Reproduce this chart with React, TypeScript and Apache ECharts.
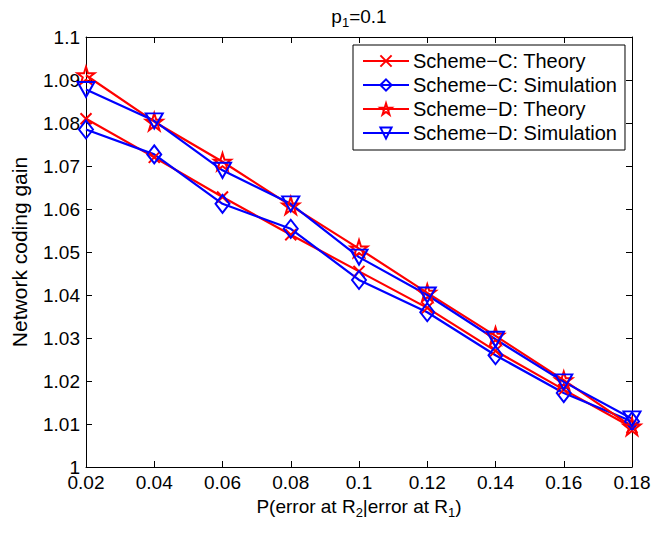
import React, { useEffect, useRef } from "react";
import * as echarts from "echarts";

const xCategories = ["0.02", "0.04", "0.06", "0.08", "0.1", "0.12", "0.14", "0.16", "0.18"];
const schemeCTheory = [1.081, 1.072, 1.0628, 1.054, 1.0455, 1.037, 1.027, 1.018, 1.0092];
const schemeCSim = [1.0785, 1.0727, 1.0612, 1.0554, 1.0435, 1.036, 1.026, 1.0172, 1.0106];
const schemeDTheory = [1.0911, 1.0803, 1.071, 1.0608, 1.0508, 1.0405, 1.0305, 1.0202, 1.0094];
const schemeDSim = [1.0878, 1.0805, 1.069, 1.0612, 1.0488, 1.04, 1.0297, 1.0198, 1.0112];
const seriesNames = [
  "Scheme\u2212C: Theory",
  "Scheme\u2212C: Simulation",
  "Scheme\u2212D: Theory",
  "Scheme\u2212D: Simulation",
];

const RED = "#ff0000";
const BLUE = "#0000ff";
const FONT = "'Liberation Sans', Arial, Helvetica, sans-serif";

const STAR =
  "path://M50,0L61.23,34.55L97.55,34.55L68.16,55.9L79.39,90.45L50,69.1L20.61,90.45L31.84,55.9L2.45,34.55L38.77,34.55Z";
const XMARK = "path://M0,0L10,10M10,0L0,10";
const TRI_DOWN = "path://M0,0L20,0L10,17Z";

function mkSeries(name: string, data: number[], color: string, symbol: string, size: any) {
  return {
    name,
    type: "line",
    data,
    color,
    symbol,
    symbolSize: size,
    showAllSymbol: true,
    clip: false,
    lineStyle: { color, width: 2.2 },
    itemStyle: { color: "rgba(255,255,255,0)", borderColor: color, borderWidth: 2 },
    emphasis: { disabled: true },
  };
}

export default function App() {
  const ref = useRef<HTMLDivElement>(null);
  useEffect(() => {
    if (!ref.current) return;
    const chart = echarts.init(ref.current, undefined, { renderer: "svg" });
    const axisLine = { show: true, lineStyle: { color: "#000", width: 1 } };
    const tick = { show: true, inside: true, length: 6, lineStyle: { color: "#000", width: 1 } };
    chart.setOption({
      animation: false,
      backgroundColor: "#fff",
      textStyle: { fontFamily: FONT },
      grid: { left: 86, top: 37, width: 546, height: 430, containLabel: false },
      graphic: [
        {
          type: "text",
          x: 359,
          y: 16,
          style: {
            text: "p{sub|1}=0.1",
            fontSize: 19,
            fontFamily: FONT,
            fill: "#000",
            align: "center",
            verticalAlign: "middle",
            rich: { sub: { fontSize: 13, fontFamily: FONT, verticalAlign: "bottom", padding: [12, 0, 0, 0] } },
          },
        },
      ],
      legend: {
        orient: "vertical",
        left: 353,
        top: 45,
        width: 272,
        itemWidth: 46,
        itemHeight: 14,
        itemGap: 4,
        padding: [6, 8, 7, 9],
        borderColor: "#000",
        borderWidth: 1,
        backgroundColor: "#fff",
        textStyle: { fontSize: 20, fontFamily: FONT, color: "#000", lineHeight: 20, padding: [0, 0, 0, -1] },
        data: seriesNames,
      },
      xAxis: [
        {
          type: "category",
          data: xCategories,
          boundaryGap: false,
          position: "bottom",
          axisLine,
          axisTick: tick,
          axisLabel: { color: "#000", fontSize: 19, fontFamily: FONT, margin: 6 },
          splitLine: { show: false },
          name: "P(error at R{sub|2}|error at R{sub|1})",
          nameLocation: "middle",
          nameGap: 25,
          nameTextStyle: {
            color: "#000",
            fontSize: 19,
            fontFamily: FONT,
            rich: { sub: { fontSize: 13, fontFamily: FONT, padding: [12, 0, 0, 0] } },
          },
        },
        {
          type: "category",
          data: xCategories,
          boundaryGap: false,
          position: "top",
          axisLine,
          axisTick: tick,
          axisLabel: { show: false },
          splitLine: { show: false },
        },
      ],
      yAxis: [
        {
          type: "value",
          min: 1,
          max: 1.1,
          interval: 0.01,
          position: "left",
          axisLine,
          axisTick: tick,
          axisLabel: {
            color: "#000",
            fontSize: 19,
            fontFamily: FONT,
            margin: 6,
            formatter: (v: number) => String(+v.toFixed(2)),
          },
          splitLine: { show: false },
          name: "Network coding gain",
          nameLocation: "middle",
          nameGap: 56,
          nameTextStyle: { color: "#000", fontSize: 21, fontFamily: FONT },
        },
        {
          type: "value",
          min: 1,
          max: 1.1,
          interval: 0.01,
          position: "right",
          axisLine,
          axisTick: tick,
          axisLabel: { show: false },
          splitLine: { show: false },
        },
      ],
      series: [
        mkSeries(seriesNames[0], schemeCTheory, RED, XMARK, 11),
        mkSeries(seriesNames[1], schemeCSim, BLUE, "diamond", [14, 18]),
        mkSeries(seriesNames[2], schemeDTheory, RED, STAR, 17),
        mkSeries(seriesNames[3], schemeDSim, BLUE, TRI_DOWN, [17, 15]),
      ],
    });
    return () => chart.dispose();
  }, []);
  return (
    <div
      ref={ref}
      style={{ position: "fixed", left: 0, top: 0, width: 654, height: 533, background: "#fff" }}
    />
  );
}
